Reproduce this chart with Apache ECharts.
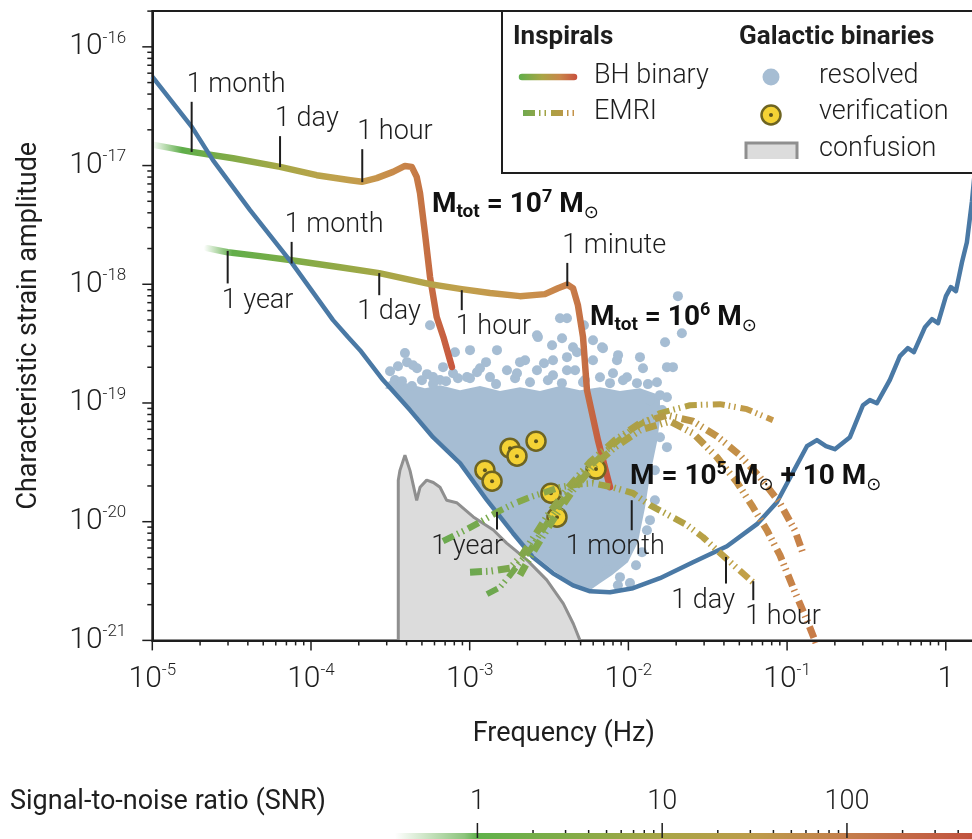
<!DOCTYPE html>
<html>
<head>
<meta charset="utf-8">
<script src="https://cdn.jsdelivr.net/npm/echarts@6.0.0/dist/echarts.min.js"></script>
<style>
  html, body { margin: 0; padding: 0; background: #fff; }
  #chart { width: 972px; height: 839px; }
</style>
</head>
<body>
<div id="chart"></div>
<script>
// every point is [log10 frequency (Hz), log10 characteristic strain]
const lisaCurve = [
  [-5.00, -16.25], [-4.750, -16.676], [-4.618, -16.954], [-4.384, -17.375], [-4.120, -17.822],
  [-3.861, -18.302], [-3.767, -18.445], [-3.691, -18.555], [-3.546, -18.807], [-3.376, -19.060],
  [-3.231, -19.288], [-3.061, -19.507], [-2.891, -19.819], [-2.727, -20.097], [-2.601, -20.300],
  [-2.475, -20.435], [-2.349, -20.536], [-2.241, -20.586], [-2.116, -20.594], [-1.971, -20.560],
  [-1.801, -20.476], [-1.593, -20.341], [-1.379, -20.207], [-1.190, -20.021], [-1.064, -19.836],
  [-0.963, -19.583], [-0.875, -19.364], [-0.812, -19.313], [-0.755, -19.364], [-0.699, -19.389],
  [-0.604, -19.288], [-0.522, -19.019], [-0.478, -18.976], [-0.434, -19.002], [-0.353, -18.807],
  [-0.289, -18.605], [-0.239, -18.538], [-0.201, -18.572], [-0.131, -18.361], [-0.087, -18.294],
  [-0.049, -18.328], [0.001, -18.100], [0.032, -18.024], [0.064, -18.058], [0.102, -17.814],
  [0.133, -17.646], [0.165, -17.300], [0.190, -16.950]
];

const confusionNoise = [
  [-3.450, -21.0], [-3.450, -19.65], [-3.440, -19.57], [-3.408, -19.44], [-3.376, -19.57],
  [-3.334, -19.82], [-3.313, -19.71], [-3.271, -19.65], [-3.229, -19.67], [-3.187, -19.71],
  [-3.145, -19.82], [-3.082, -19.84], [-2.977, -19.96], [-2.851, -20.07], [-2.767, -20.18],
  [-2.641, -20.32], [-2.515, -20.49], [-2.410, -20.69], [-2.347, -20.86], [-2.305, -21.0]
];

// outline of the dense cloud of resolved galactic binaries
const resolvedRegion = [
  [-3.534, -18.875], [-3.471, -18.808], [-3.376, -18.842], [-3.282, -18.875], [-3.187, -18.850],
  [-3.061, -18.892], [-2.935, -18.858], [-2.809, -18.900], [-2.683, -18.867], [-2.557, -18.900],
  [-2.431, -18.858], [-2.305, -18.892], [-2.179, -18.867], [-2.053, -18.900], [-1.927, -18.875],
  [-1.801, -18.934], [-1.801, -19.145], [-1.820, -19.330], [-1.864, -19.610], [-1.896, -19.887],
  [-1.940, -20.174], [-2.003, -20.342], [-2.104, -20.451], [-2.179, -20.518], [-2.242, -20.577],
  [-2.349, -20.527], [-2.475, -20.409], [-2.601, -20.275], [-2.727, -20.072], [-2.891, -19.794],
  [-3.061, -19.482], [-3.231, -19.263], [-3.376, -19.036], [-3.471, -18.900]
];

const resolvedBinaries = [
  [-3.250, -18.345], [-3.408, -18.580], [-3.502, -18.732], [-3.452, -18.690], [-3.395, -18.656],
  [-3.332, -18.707], [-3.269, -18.757], [-3.168, -18.698], [-3.093, -18.572], [-3.074, -18.791],
  [-2.935, -18.707], [-2.897, -18.656], [-2.828, -18.555], [-2.765, -18.724], [-2.651, -18.640],
  [-2.576, -18.724], [-2.532, -18.665], [-2.570, -18.445], [-2.481, -18.513], [-2.418, -18.454],
  [-2.324, -18.572], [-2.475, -18.766], [-2.336, -18.724], [-2.223, -18.471], [-2.223, -18.640],
  [-2.179, -18.783], [-2.072, -18.640], [-2.097, -18.749], [-2.009, -18.783], [-1.927, -18.614],
  [-1.908, -18.707], [-1.769, -18.488], [-1.757, -18.698], [-1.946, -18.833], [-1.820, -18.825],
  [-2.431, -18.286], [-2.387, -18.286], [-2.280, -18.345], [-1.663, -18.412], [-2.576, -18.429],
  [-1.688, -18.100], [-1.757, -18.951], [-1.757, -19.372], [-1.801, -19.288], [-2.135, -20.408],
  [-2.053, -20.467], [-2.166, -18.530], [-2.065, -18.597], [-2.998, -18.555], [-2.683, -18.656],
  [-1.833, -19.566], [-1.864, -19.987], [-1.914, -20.257], [-3.187, -18.807], [-2.998, -18.791],
  [-2.714, -18.791], [-2.274, -18.807], [-1.864, -18.976], [-3.471, -18.807], [-1.990, -20.517],
  [-3.489, -18.850], [-3.427, -18.816], [-3.364, -18.858], [-3.301, -18.808], [-3.231, -18.841],
  [-3.149, -18.816], [-3.105, -18.749], [-3.017, -18.782], [-2.872, -18.782], [-2.834, -18.841],
  [-2.702, -18.749], [-2.620, -18.825], [-2.507, -18.808], [-2.419, -18.833], [-2.387, -18.724],
  [-2.387, -18.614], [-2.349, -18.530], [-2.475, -18.640], [-2.286, -18.825], [-2.116, -18.833],
  [-2.034, -18.808], [-1.877, -18.841], [-1.719, -18.698], [-3.357, -18.682], [-3.231, -18.782],
  [-2.954, -18.741], [-2.160, -18.538], [-1.801, -18.934], [-1.788, -19.060], [-1.833, -19.819],
  [-1.883, -20.072], [-1.952, -20.367], [-2.066, -20.535]
];

const verificationBinaries = [
  [-2.904, -19.566], [-2.859, -19.659], [-2.746, -19.381], [-2.702, -19.448],
  [-2.582, -19.322], [-2.488, -19.760], [-2.450, -19.962], [-2.204, -19.557]
];

// massive black hole binaries, total mass 1e7 and 1e6 solar masses
const bhTrack7 = [
  [-4.983, -16.828], [-4.752, -16.885], [-4.491, -16.938], [-4.195, -17.011], [-3.964, -17.081],
  [-3.752, -17.123], [-3.679, -17.137], [-3.586, -17.106], [-3.483, -17.053], [-3.408, -17.003],
  [-3.365, -17.011], [-3.334, -17.095], [-3.313, -17.233], [-3.282, -17.570], [-3.250, -17.938],
  [-3.208, -18.275], [-3.166, -18.444], [-3.112, -18.697]
];
const bhTrack6 = [
  [-4.655, -17.696], [-4.525, -17.730], [-4.321, -17.763], [-4.122, -17.797], [-3.817, -17.856],
  [-3.570, -17.906], [-3.250, -17.999], [-3.050, -18.041], [-2.872, -18.074], [-2.683, -18.100],
  [-2.526, -18.083], [-2.444, -18.033], [-2.385, -18.003], [-2.349, -18.033], [-2.318, -18.176],
  [-2.286, -18.445], [-2.261, -18.892], [-2.192, -19.313], [-2.116, -19.709]
];

// extreme mass ratio inspirals, 1e5 + 10 solar masses
const emriTrack1 = [
  [-3.168, -20.164], [-3.030, -20.072], [-2.935, -20.004], [-2.828, -19.920], [-2.714, -19.844],
  [-2.620, -19.794], [-2.525, -19.752], [-2.431, -19.710], [-2.317, -19.684], [-2.223, -19.676],
  [-2.097, -19.710], [-1.971, -19.760], [-1.864, -19.861], [-1.757, -19.937], [-1.631, -20.029],
  [-1.530, -20.131], [-1.442, -20.240], [-1.329, -20.375], [-1.215, -20.510]
];
const emriTrack2 = [
  [-2.891, -20.611], [-2.809, -20.552], [-2.746, -20.451], [-2.683, -20.341], [-2.620, -20.240],
  [-2.513, -20.013], [-2.412, -19.819], [-2.286, -19.592], [-2.135, -19.398], [-1.971, -19.213],
  [-1.801, -19.086], [-1.612, -19.019], [-1.423, -19.010], [-1.253, -19.052], [-1.089, -19.145]
];
const emriTrack3 = [
  [-2.998, -20.425], [-2.872, -20.417], [-2.746, -20.392], [-2.670, -20.282], [-2.589, -20.114],
  [-2.495, -19.920], [-2.381, -19.718], [-2.242, -19.499], [-2.084, -19.314], [-1.927, -19.171],
  [-1.757, -19.103], [-1.593, -19.154], [-1.442, -19.280], [-1.297, -19.440], [-1.171, -19.625],
  [-1.045, -19.844], [-0.951, -20.072], [-0.900, -20.265]
];
const emriTrack4 = [
  [-2.683, -20.451], [-2.620, -20.299], [-2.544, -20.131], [-2.456, -19.945], [-2.349, -19.735],
  [-2.229, -19.541], [-2.084, -19.372], [-1.927, -19.229], [-1.738, -19.154], [-1.593, -19.255],
  [-1.442, -19.457], [-1.316, -19.668], [-1.215, -19.878], [-1.127, -20.072], [-1.045, -20.282],
  [-0.963, -20.552], [-0.875, -20.830], [-0.810, -21.050]
];

// time before merger: [log10 f, top of tick, bottom of tick, label]
const timeMarks = [
  [-4.752, -16.463, -16.885, '1 month'],
  [-4.195, -16.752, -17.013, '1 day'],
  [-3.677, -16.862, -17.140, '1 hour'],
  [-4.525, -17.719, -17.993, '1 year'],
  [-4.122, -17.643, -17.825, '1 month'],
  [-3.570, -17.906, -18.092, '1 day'],
  [-3.050, -18.050, -18.218, '1 hour'],
  [-2.385, -17.820, -18.016, '1 minute'],
  [-2.828, -19.917, -20.066, '1 year'],
  [-1.979, -19.819, -20.072, '1 month'],
  [-1.385, -20.297, -20.521, '1 day'],
  [-1.213, -20.501, -20.661, '1 hour']
];

const massLabels = [
  [-3.238, -17.334, '{m|M}{sub|tot}{m| = 10}{sup|7}{m| M}{sun|⊙}'],
  [-2.242, -18.286, '{m|M}{sub|tot}{m| = 10}{sup|6}{m| M}{sun|⊙}'],
  [-1.990, -19.625, '{m|M = 10}{sup|5}{m| M}{sun|⊙}{m| + 10 M}{sun|⊙}']
];

const snrLabels = ['1', '10', '100'];

// ---- layout / style ----
const X_MIN = -5, X_MAX = 0.186, Y_MIN = -21, Y_MAX = -15.698;
const SNR_MIN = -0.446, SNR_MAX = 2.693;
const FONT = 'Roboto, "Noto Sans", sans-serif';
const INK = '#1e1e1e';
const BLUE = '#4a79a5';
const RESOLVED = '#a6bdd3';

// time mark label placement: side of tick, text alignment, horizontal shift
const markLayout = [
  ['above', 'left', -5], ['above', 'left', -5], ['above', 'left', -5],
  ['below', 'left', -6], ['above', 'left', -7], ['below', 'left', -22],
  ['below', 'left', -6], ['above', 'left', -5],
  ['below', 'right', 6], ['below', 'left', -66], ['below', 'right', 9], ['below', 'left', -8]
];

function grad(stops) {
  return new echarts.graphic.LinearGradient(0, 0, 1, 0,
    stops.map(s => ({ offset: s[0], color: s[1] })));
}

function decadeTicks(lo, hi) {
  const out = [];
  for (let d = Math.floor(lo); d <= Math.ceil(hi); d++) {
    for (let k = 1; k <= 9; k++) {
      const v = d + Math.log10(k);
      if (v >= lo - 1e-9 && v <= hi + 1e-9) out.push([v, k === 1 ? 1 : 0]);
    }
  }
  return out;
}

const bh7Color = grad([[0, 'rgba(95,174,74,0)'], [0.10, '#5fae4a'], [0.25, '#7fab47'], [0.42, '#a5a746'],
  [0.59, '#bea24c'], [0.71, '#c6994c'], [0.82, '#c8874a'], [0.89, '#c57444'], [1, '#c8563f']]);
const bh6Color = grad([[0, 'rgba(95,174,74,0)'], [0.07, '#62ae4a'], [0.21, '#7dac47'], [0.43, '#a5a746'],
  [0.63, '#c0a04c'], [0.80, '#c9904c'], [0.89, '#c8804a'], [0.94, '#c46a43'], [1, '#c8523e']]);
const emriColors = [
  grad([[0, '#6aaa50'], [0.25, '#84a94a'], [0.6, '#a8a243'], [1, '#c4a048']]),
  grad([[0, '#6aa850'], [0.35, '#98a646'], [0.6, '#aea343'], [1, '#c8984a']]),
  grad([[0, '#6aa850'], [0.4, '#a4a445'], [0.75, '#c39248'], [1, '#c88048']]),
  grad([[0, '#78aa4c'], [0.35, '#aaa244'], [0.7, '#c49448'], [1, '#c97a48']])
];
const snrColor = grad([[0, '#ffffff'], [0.12, '#8cc47c'], [0.142, '#5fb14b'], [0.30, '#82ac48'],
  [0.46, '#a8a546'], [0.62, '#bd9c4a'], [0.78, '#c47d4b'], [1, '#c2523f']]);
const EMRI_DASH = [12, 4, 1.5, 4, 1.5, 5];

const labelRich = {
  b: { fontSize: 30, fontFamily: FONT, fontWeight: 300, color: INK, lineHeight: 34 },
  s: { fontSize: 17, fontFamily: FONT, fontWeight: 300, color: INK, lineHeight: 18, verticalAlign: 'top' }
};
const massRich = {
  m: { fontSize: 28, fontWeight: 'bold', fontFamily: FONT, fill: '#111', lineHeight: 34 },
  sub: { fontSize: 19, fontWeight: 'bold', fontFamily: FONT, fill: '#111', lineHeight: 20, verticalAlign: 'bottom' },
  sup: { fontSize: 18, fontWeight: 'bold', fontFamily: FONT, fill: '#111', lineHeight: 20, verticalAlign: 'top' },
  sun: { fontSize: 18, fontFamily: '"DejaVu Sans", sans-serif', fill: '#111', lineHeight: 20, verticalAlign: 'bottom' }
};

function powLabel(v) {
  if (Math.abs(v - Math.round(v)) > 1e-6) return '';
  const n = Math.round(v);
  return n === 0 ? '{b|1}' : '{b|10}{s|' + n + '}';
}

function emriSeries(data, color, width) {
  return {
    type: 'line', data: data, showSymbol: false, silent: true, z: 6,
    lineStyle: { color: color, width: width, type: EMRI_DASH, cap: 'butt' }
  };
}

const chart = echarts.init(document.getElementById('chart'));

const legendText = (text, x, y, bold) => ({
  type: 'text', x: x, y: y, z: 101,
  style: { text: text, fontSize: bold ? 26 : 27, fontWeight: bold ? 'bold' : 300,
    fontFamily: FONT, fill: INK, verticalAlign: 'middle' }
});

chart.setOption({
  backgroundColor: '#fff',
  animation: false,
  grid: [
    { left: 152.3, top: 11, width: 823, height: 629.4, show: true, containLabel: false,
      outerBoundsMode: 'none',
      borderColor: INK, borderWidth: 2, backgroundColor: 'transparent' },
    { left: 395, top: 833, width: 580, height: 7, show: true, containLabel: false,
      outerBoundsMode: 'none', borderWidth: 0, backgroundColor: snrColor }
  ],
  xAxis: [
    { gridIndex: 0, type: 'value', min: X_MIN, max: X_MAX, interval: 1, z: 10,
      axisLine: { show: true, onZero: false, lineStyle: { color: INK, width: 2 } },
      axisTick: { show: false }, splitLine: { show: false },
      axisLabel: { margin: 22, formatter: powLabel, rich: labelRich },
      name: 'Frequency (Hz)', nameLocation: 'middle', nameGap: 80,
      nameTextStyle: { fontSize: 27, fontFamily: FONT, color: INK } },
    { gridIndex: 1, type: 'value', min: SNR_MIN, max: SNR_MAX, show: false }
  ],
  yAxis: [
    { gridIndex: 0, type: 'value', min: Y_MIN, max: Y_MAX, interval: 1, z: 10,
      axisLine: { show: true, onZero: false, lineStyle: { color: INK, width: 2 } },
      axisTick: { show: false }, splitLine: { show: false },
      axisLabel: { margin: 26, formatter: powLabel, rich: labelRich },
      name: 'Characteristic strain amplitude', nameLocation: 'middle', nameGap: 110, nameRotate: 90,
      nameTextStyle: { fontSize: 27, fontFamily: FONT, color: INK } },
    { gridIndex: 1, type: 'value', min: 0, max: 1, show: false }
  ],
  series: [
    { type: 'line', data: confusionNoise, showSymbol: false, silent: true, z: 1,
      lineStyle: { color: '#8f8f8f', width: 3 },
      areaStyle: { color: '#dcdcdc', opacity: 1, origin: 'start' } },
    { type: 'custom', data: resolvedRegion, silent: true, z: 2,
      renderItem: (params, api) => params.dataIndex !== 0 ? null : {
        type: 'polygon',
        shape: { points: resolvedRegion.map(p => api.coord(p)) },
        style: { fill: RESOLVED }
      } },
    { type: 'scatter', data: resolvedBinaries, symbolSize: 10, silent: true, z: 3,
      itemStyle: { color: RESOLVED, opacity: 1 } },
    { type: 'scatter', data: verificationBinaries, symbolSize: 19, silent: true, z: 4,
      itemStyle: { color: '#f4d235', borderColor: '#6e6421', borderWidth: 2.5, opacity: 1 } },
    { type: 'scatter', data: verificationBinaries, symbolSize: 4, silent: true, z: 4,
      itemStyle: { color: '#5c531c', opacity: 1 } },
    { type: 'line', data: bhTrack7, showSymbol: false, silent: true, z: 4,
      lineStyle: { color: bh7Color, width: 6.5, cap: 'round', join: 'round' } },
    { type: 'line', data: bhTrack6, showSymbol: false, silent: true, z: 4,
      lineStyle: { color: bh6Color, width: 6.5, cap: 'round', join: 'round' } },
    { type: 'line', data: lisaCurve, showSymbol: false, silent: true, z: 5,
      lineStyle: { color: BLUE, width: 4.5, join: 'round' } },
    emriSeries(emriTrack1, emriColors[0], 6.5),
    emriSeries(emriTrack2, emriColors[1], 6),
    emriSeries(emriTrack3, emriColors[2], 7),
    emriSeries(emriTrack4, emriColors[3], 7),
    { type: 'custom', data: timeMarks.map(m => [m[0], m[1], m[2]]), silent: true, z: 8, clip: false,
      renderItem: (params, api) => {
        const i = params.dataIndex;
        const top = api.coord([api.value(0), api.value(1)]);
        const bot = api.coord([api.value(0), api.value(2)]);
        const lay = markLayout[i];
        const above = lay[0] === 'above';
        return { type: 'group', children: [
          { type: 'line', shape: { x1: top[0], y1: top[1], x2: bot[0], y2: bot[1] },
            style: { stroke: INK, lineWidth: 2 } },
          { type: 'text', x: top[0] + lay[2], y: above ? top[1] - 3 : bot[1] + 4,
            style: { text: timeMarks[i][3], fontSize: 27, fontFamily: FONT, fontWeight: 300, fill: INK,
              align: lay[1], verticalAlign: above ? 'bottom' : 'top' } }
        ] };
      } },
    { type: 'custom', data: massLabels.map(m => [m[0], m[1]]), silent: true, z: 9, clip: false,
      renderItem: (params, api) => {
        const p = api.coord([api.value(0), api.value(1)]);
        return { type: 'text', x: p[0], y: p[1],
          style: { text: massLabels[params.dataIndex][2], rich: massRich, align: 'left', verticalAlign: 'middle' } };
      } },
    { type: 'custom', data: decadeTicks(X_MIN, X_MAX).map(t => [t[0], Y_MIN, t[1]]),
      silent: true, z: 11, clip: false,
      renderItem: (params, api) => {
        const p = api.coord([api.value(0), api.value(1)]);
        const len = api.value(2) ? 10 : 5;
        return { type: 'line', shape: { x1: p[0], y1: p[1], x2: p[0], y2: p[1] + len },
          style: { stroke: INK, lineWidth: 1.5 } };
      } },
    { type: 'custom', data: decadeTicks(Y_MIN, Y_MAX).map(t => [X_MIN, t[0], t[1]]),
      silent: true, z: 11, clip: false,
      renderItem: (params, api) => {
        const p = api.coord([api.value(0), api.value(1)]);
        const len = api.value(2) ? 10 : 5;
        return { type: 'line', shape: { x1: p[0] - len, y1: p[1], x2: p[0], y2: p[1] },
          style: { stroke: INK, lineWidth: 1.5 } };
      } },
    { type: 'custom', xAxisIndex: 1, yAxisIndex: 1, silent: true, z: 11, clip: false,
      data: decadeTicks(0, SNR_MAX).map(t => [t[0], 1, t[1]]),
      renderItem: (params, api) => {
        const v = api.value(0);
        const p = api.coord([v, api.value(1)]);
        const major = api.value(2) === 1;
        const children = [{ type: 'line',
          shape: { x1: p[0], y1: p[1] - (major ? 10 : 3), x2: p[0], y2: p[1] + (major ? 5 : 0) },
          style: { stroke: INK, lineWidth: 1.5 } }];
        if (major) {
          children.push({ type: 'text', x: p[0], y: p[1] - 31,
            style: { text: snrLabels[Math.round(v)], fontSize: 27, fontFamily: FONT, fontWeight: 300,
              fill: INK, align: 'center', verticalAlign: 'middle' } });
        }
        return { type: 'group', children: children };
      } }
  ],
  graphic: [
    { type: 'rect', z: 100, shape: { x: 502, y: 11, width: 490, height: 162 },
      style: { fill: '#fff', stroke: INK, lineWidth: 2 } },
    legendText('Inspirals', 513, 37, true),
    legendText('Galactic binaries', 739, 37, true),
    { type: 'line', z: 101, shape: { x1: 522, y1: 77, x2: 574, y2: 77 },
      style: { stroke: grad([[0, '#5fae4a'], [0.4, '#a9a545'], [0.7, '#c8874a'], [1, '#c8503e']]),
        lineWidth: 6.5, lineCap: 'round' } },
    legendText('BH binary', 594, 76, false),
    { type: 'line', z: 101, shape: { x1: 523, y1: 113, x2: 574, y2: 113 },
      style: { stroke: grad([[0, '#6aaa50'], [0.5, '#a8a243'], [1, '#c8904a']]),
        lineWidth: 6, lineDash: EMRI_DASH, lineCap: 'butt' } },
    legendText('EMRI', 594, 112, false),
    { type: 'circle', z: 101, shape: { cx: 771, cy: 77, r: 8.5 }, style: { fill: RESOLVED } },
    legendText('resolved', 819, 76, false),
    { type: 'circle', z: 101, shape: { cx: 771, cy: 115, r: 9.5 },
      style: { fill: '#f4d235', stroke: '#6e6421', lineWidth: 2.5 } },
    { type: 'circle', z: 102, shape: { cx: 771, cy: 115, r: 2 }, style: { fill: '#5c531c' } },
    legendText('verification', 819, 112, false),
    { type: 'rect', z: 101, shape: { x: 746, y: 143, width: 51, height: 16 }, style: { fill: '#dcdcdc' } },
    { type: 'polyline', z: 102, shape: { points: [[746, 159], [746, 143], [797, 143], [797, 159]] },
      style: { stroke: '#8f8f8f', lineWidth: 3, fill: null } },
    legendText('confusion', 819, 149, false),
    { type: 'text', x: 10, y: 802, z: 101,
      style: { text: 'Signal-to-noise ratio (SNR)', fontSize: 27, fontFamily: FONT, fill: INK, verticalAlign: 'middle' } }
  ]
});
</script>
</body>
</html>
